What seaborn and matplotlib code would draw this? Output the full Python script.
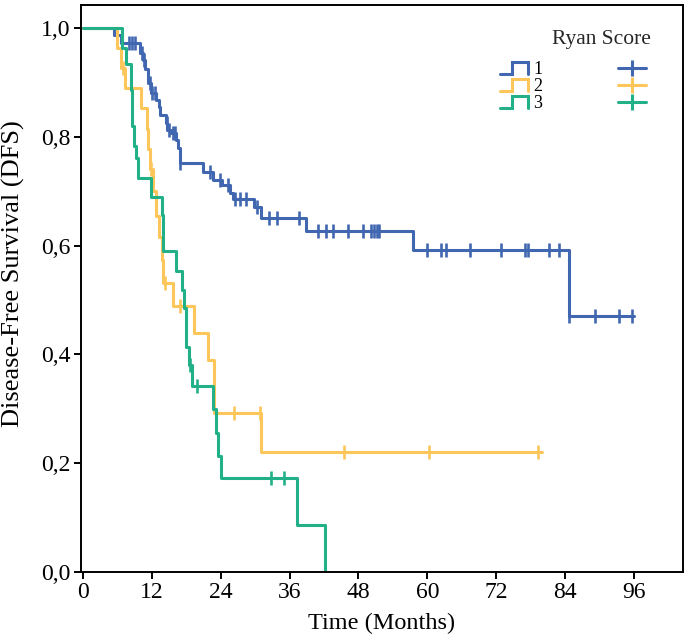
"""
Kaplan-Meier disease-free survival by Ryan score.
"""

import matplotlib

matplotlib.use("Agg")

import matplotlib.pyplot as plt
import numpy as np
import pandas as pd
import seaborn as sns
from matplotlib.legend_handler import HandlerBase
from matplotlib.lines import Line2D

GROUPS = ["1", "2", "3"]
COLORS = ["#4167B1", "#FCC65B", "#21B087"]

# step function: time (months) and survival after the event at that time
BLUE_T = [0, 5.5, 6.6, 9.9, 10.5, 10.9, 11.4, 11.8, 12.8, 13.2, 13.4, 14.5, 14.7,
          15.4, 16.3, 16.6, 16.9, 21.0, 22.7, 24.2, 25.6, 26.1, 29.8, 31.1, 38.9,
          57.5, 84.7, 96.0]
BLUE_S = [1.0, 0.986, 0.973, 0.953, 0.94, 0.924, 0.898, 0.880, 0.868, 0.855, 0.840,
          0.825, 0.812, 0.806, 0.794, 0.779, 0.751, 0.736, 0.720, 0.711, 0.696, 0.685,
          0.670, 0.650, 0.627, 0.592, 0.471, 0.471]
BLUE_CENSOR = [8.1, 8.6, 9.1, 10.3, 10.7, 11.7, 12.1, 12.5, 14.6, 15.0, 15.7, 16.0,
               17.0, 22.1, 23.8, 25.3, 26.5, 27.4, 28.4, 30.3, 32.5, 33.8, 37.7, 40.9,
               42.3, 43.6, 46.1, 48.8, 50.1, 50.7, 51.2, 51.6, 60.0, 62.4, 63.3, 67.4,
               72.9, 77.0, 77.6, 81.2, 82.9, 84.7, 89.2, 93.4, 95.6]

YELLOW_T = [0, 6.0, 6.7, 7.3, 10.2, 11.1, 11.4, 11.7, 12.3, 12.7, 13.2, 13.7, 14.0,
            15.7, 19.4, 21.8, 22.8, 31.1, 79.9]
YELLOW_S = [1.0, 0.963, 0.926, 0.889, 0.852, 0.815, 0.778, 0.741, 0.70, 0.655, 0.615,
            0.574, 0.531, 0.488, 0.439, 0.39, 0.293, 0.22, 0.22]
YELLOW_CENSOR = [7.0, 11.8, 14.3, 16.9, 26.4, 30.8, 45.4, 60.3, 79.2]

GREEN_T = [0, 6.9, 7.6, 8.3, 8.6, 8.9, 9.3, 9.6, 11.9, 13.7, 14.0, 16.3, 17.3, 17.7,
           18.0, 18.4, 19.0, 22.6, 23.2, 23.6, 24.0, 37.3, 42.2]
GREEN_S = [1.0, 0.963, 0.933, 0.886, 0.82, 0.782, 0.76, 0.724, 0.69, 0.656, 0.589,
           0.554, 0.518, 0.485, 0.414, 0.38, 0.342, 0.299, 0.256, 0.214, 0.172, 0.086, 0.0]
GREEN_CENSOR = [18.6, 19.8, 32.8, 35.1]

X_TICKS = [0, 12, 24, 36, 48, 60, 72, 84, 96]
Y_TICKS = [0.0, 0.2, 0.4, 0.6, 0.8, 1.0]
Y_TICK_LABELS = ["0,0", "0,2", "0,4", "0,6", "0,8", "1,0"]


class StepHandler(HandlerBase):
    """Legend glyph shaped like a small survival step."""

    def create_artists(self, legend, orig_handle, xdescent, ydescent, width, height,
                       fontsize, trans):
        x0, y0 = -xdescent, -ydescent
        xs = [x0, x0 + 0.42 * width, x0 + 0.42 * width, x0 + width, x0 + width]
        ys = [y0 + 0.05 * height, y0 + 0.05 * height, y0 + 0.95 * height,
              y0 + 0.95 * height, y0 + 0.05 * height]
        line = Line2D(xs, ys, color=orig_handle.get_color(),
                      lw=orig_handle.get_linewidth(), solid_joinstyle="miter")
        line.set_transform(trans)
        return [line]


def build_frames():
    steps, censors = [], []
    series = [
        (BLUE_T, BLUE_S, BLUE_CENSOR),
        (YELLOW_T, YELLOW_S, YELLOW_CENSOR),
        (GREEN_T, GREEN_S, GREEN_CENSOR),
    ]
    for group, (t, s, c) in zip(GROUPS, series):
        steps.append(pd.DataFrame({"time": t, "surv": s, "group": group}))
        idx = np.searchsorted(t, c, side="right") - 1
        censors.append(pd.DataFrame({"time": c, "surv": np.asarray(s)[idx], "group": group}))
    return pd.concat(steps, ignore_index=True), pd.concat(censors, ignore_index=True)


def main() -> None:
    sns.set_theme(style="ticks")
    plt.rcParams["font.family"] = ["Liberation Serif", "DejaVu Serif"]

    steps, censors = build_frames()
    palette = dict(zip(GROUPS, COLORS))

    fig = plt.figure(figsize=(6.85, 6.38), dpi=100)
    ax = fig.add_axes([0.118, 0.1034, 0.879, 0.8888])

    sns.lineplot(data=steps, x="time", y="surv", hue="group", palette=palette,
                 estimator=None, sort=False, drawstyle="steps-post", lw=2.2,
                 legend=False, ax=ax)
    for group in GROUPS:
        sub = censors[censors["group"] == group]
        ax.plot(sub["time"], sub["surv"], ls="none", marker="|", ms=9.5, mew=1.9,
                color=palette[group])

    ax.set_xlim(-0.35, 104.5)
    ax.set_ylim(0, 1.042)
    ax.set_xticks(X_TICKS)
    ax.set_yticks(Y_TICKS)
    ax.set_yticklabels(Y_TICK_LABELS)
    ax.tick_params(axis="both", labelsize=17, length=5, width=1.4, color="black",
                   labelcolor="black", pad=2.5)
    for spine in ax.spines.values():
        spine.set_visible(True)
        spine.set_color("black")
        spine.set_linewidth(1.4)

    ax.set_xlabel("Time (Months)", fontsize=17.5, color="black", labelpad=7)
    ax.set_ylabel("Disease-Free Survival (DFS)", fontsize=19, color="black")
    ax.yaxis.set_label_coords(-0.092, 0.526)

    step_handles = [Line2D([0], [0], color=c, lw=2.2) for c in COLORS]
    plus_handles = [Line2D([0], [0], color=c, lw=2.2, marker="|", ms=11.5, mew=2.2)
                    for c in COLORS]
    leg = ax.legend(
        step_handles + plus_handles, GROUPS + ["", "", ""],
        ncol=2, title="Ryan Score", loc="upper right",
        bbox_to_anchor=(0.962, 0.972), frameon=False, fontsize=13,
        title_fontsize=15.5, handlelength=1.55, handletextpad=0.28,
        columnspacing=4.2, labelspacing=0.0, borderpad=0, alignment="right",
        handler_map={h: StepHandler() for h in step_handles},
    )
    leg._legend_box.sep = 9
    for text in leg.get_texts():
        text.set_color("black")

    fig.savefig("out.png", dpi=100)
    plt.close(fig)


if __name__ == "__main__":
    main()
